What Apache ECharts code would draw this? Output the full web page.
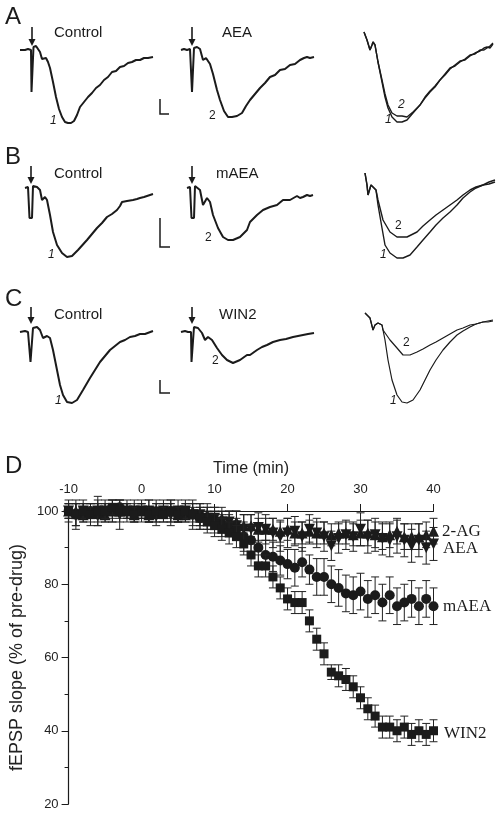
<!DOCTYPE html>
<html><head><meta charset="utf-8">
<script src="https://cdn.jsdelivr.net/npm/echarts@6/dist/echarts.min.js"></script>
<style>html,body{margin:0;padding:0;background:#fff}#c{width:501px;height:816px}</style>
</head><body><div id="c"></div>
<script>
// ---------- Panels A-C : field potential traces [time (ms), amplitude (mV)] ----------
const traceA_control = [[0,0],[0.2,0.01],[0.5,0],[0.8,0.01],[1.0,0],[1.1,0],[1.15,-0.42],[1.3,-0.42],[1.35,0.03],[1.6,0.04],[1.8,0.03],[2.0,-0.02],[2.2,-0.09],[2.4,-0.07],[2.6,-0.08],[2.8,-0.12],[3.0,-0.18],[3.3,-0.32],[3.6,-0.47],[3.9,-0.59],[4.2,-0.67],[4.5,-0.72],[4.8,-0.73],[5.1,-0.73],[5.4,-0.71],[5.7,-0.65],[6.0,-0.57],[6.4,-0.52],[6.8,-0.47],[7.2,-0.43],[7.6,-0.38],[8.0,-0.35],[8.4,-0.30],[8.8,-0.27],[9.2,-0.22],[9.6,-0.21],[10.0,-0.17],[10.4,-0.16],[10.8,-0.13],[11.2,-0.12],[11.6,-0.10],[12.0,-0.10],[12.4,-0.08],[12.8,-0.08],[13.0,-0.09],[13.3,-0.07]];
const traceA_AEA = [[0.1,0],[0.4,0.01],[0.7,0],[1.0,0.01],[1.15,0],[1.2,-0.42],[1.35,-0.42],[1.4,0.02],[1.7,0.03],[2.0,0.01],[2.3,-0.10],[2.6,-0.08],[2.8,-0.07],[3.0,-0.14],[3.3,-0.24],[3.7,-0.40],[4.0,-0.50],[4.4,-0.61],[4.8,-0.67],[5.2,-0.67],[5.7,-0.66],[6.2,-0.63],[6.6,-0.56],[7.0,-0.50],[7.5,-0.44],[8.0,-0.38],[8.5,-0.33],[9.0,-0.27],[9.5,-0.25],[10.0,-0.20],[10.5,-0.19],[11.0,-0.15],[11.5,-0.14],[12.0,-0.10],[12.4,-0.08],[12.7,-0.07],[13.0,-0.08],[13.4,-0.07]];
const traceA_over1 = [[0.4,0.18],[0.7,0.10],[1.0,0.0],[1.2,0.05],[1.3,0.08],[1.5,0.05],[1.8,-0.12],[2.2,-0.32],[2.5,-0.47],[2.8,-0.58],[3.2,-0.67],[3.7,-0.72],[4.2,-0.72],[4.7,-0.70],[5.3,-0.63],[6.0,-0.55],[6.5,-0.48],[7.0,-0.42],[7.5,-0.37],[8.0,-0.30],[8.5,-0.24],[9.0,-0.18],[9.5,-0.16],[10.0,-0.12],[10.5,-0.09],[11.0,-0.05],[11.5,-0.04],[12.0,0.0],[12.4,0.0],[12.7,0.02],[13.0,0.04],[13.3,0.07]];
const traceA_over2 = [[0.4,0.18],[0.7,0.10],[1.0,0.0],[1.2,0.05],[1.3,0.08],[1.5,0.05],[1.8,-0.12],[2.2,-0.30],[2.5,-0.44],[2.8,-0.55],[3.2,-0.63],[3.7,-0.66],[4.2,-0.66],[4.7,-0.67],[5.3,-0.62],[6.0,-0.55],[6.5,-0.47],[7.0,-0.41],[7.5,-0.36],[8.0,-0.30],[8.5,-0.25],[9.0,-0.19],[9.5,-0.15],[10.0,-0.11],[10.5,-0.10],[11.0,-0.06],[11.5,-0.03],[12.0,-0.01],[12.4,0.02],[12.7,0.03],[13.0,0.02],[13.3,0.06]];

const traceB_control = [[0.5,0],[0.8,0.01],[0.9,0],[0.95,-0.30],[1.2,-0.30],[1.3,0.02],[1.7,0.01],[2.0,-0.02],[2.2,-0.12],[2.3,-0.14],[2.5,-0.09],[2.7,-0.12],[3.0,-0.27],[3.3,-0.44],[3.7,-0.57],[4.2,-0.65],[4.7,-0.69],[5.2,-0.68],[5.8,-0.62],[6.7,-0.52],[7.2,-0.46],[7.7,-0.40],[8.2,-0.35],[8.7,-0.29],[9.2,-0.26],[9.7,-0.22],[10.0,-0.18],[10.2,-0.14],[10.7,-0.13],[11.3,-0.12],[11.7,-0.11],[12.0,-0.10],[12.4,-0.09],[12.7,-0.08],[13.0,-0.07],[13.3,-0.06]];
const traceB_mAEA = [[0.7,0],[1.0,0.01],[1.1,0],[1.15,-0.30],[1.4,-0.30],[1.5,0.02],[1.7,0.02],[2.0,-0.02],[2.3,-0.17],[2.7,-0.10],[3.0,-0.14],[3.3,-0.27],[3.8,-0.40],[4.3,-0.49],[4.8,-0.52],[5.3,-0.52],[6.0,-0.49],[6.7,-0.42],[7.0,-0.34],[7.7,-0.27],[8.3,-0.22],[9.0,-0.19],[9.7,-0.17],[10.3,-0.12],[11.0,-0.12],[11.7,-0.08],[12.0,-0.10],[12.3,-0.09],[12.7,-0.07],[13.0,-0.08],[13.3,-0.07]];
const traceB_over1 = [[0.5,0.15],[0.7,0.03],[0.8,-0.07],[1.1,0.03],[1.3,0.05],[1.6,-0.02],[1.8,-0.17],[2.2,-0.40],[2.5,-0.57],[3.0,-0.65],[3.7,-0.70],[4.3,-0.70],[5.0,-0.67],[5.7,-0.59],[6.3,-0.52],[7.0,-0.44],[7.6,-0.37],[8.3,-0.30],[9.0,-0.24],[9.7,-0.17],[10.3,-0.10],[11.0,-0.04],[11.6,0.0],[12.3,0.03],[12.9,0.04],[13.5,0.06]];
const traceB_over2 = [[0.5,0.15],[0.7,0.03],[0.8,-0.07],[1.1,0.03],[1.3,0.05],[1.6,-0.02],[1.8,-0.12],[2.3,-0.32],[3.0,-0.44],[3.7,-0.49],[4.7,-0.49],[5.7,-0.44],[6.3,-0.38],[7.0,-0.32],[7.6,-0.27],[8.3,-0.22],[9.0,-0.17],[9.7,-0.12],[10.3,-0.07],[11.0,-0.02],[11.6,0.01],[12.3,0.03],[12.9,0.06],[13.5,0.08]];

const traceC_control = [[0,0],[0.5,0.01],[0.8,0],[1.0,0],[1.05,-0.30],[1.25,-0.30],[1.3,0.04],[1.7,0.05],[2.0,0.02],[2.3,-0.06],[2.7,-0.04],[3.0,-0.06],[3.3,-0.18],[3.7,-0.38],[4.0,-0.53],[4.3,-0.63],[4.7,-0.70],[5.2,-0.71],[5.7,-0.68],[6.3,-0.58],[7.0,-0.46],[7.5,-0.38],[8.0,-0.30],[8.5,-0.24],[9.0,-0.18],[9.5,-0.14],[10.0,-0.10],[10.5,-0.08],[11.0,-0.05],[11.5,-0.04],[12.0,-0.02],[12.5,-0.02],[13.3,0.01]];
const traceC_WIN2 = [[0.1,0],[0.5,0.01],[0.8,0],[1.1,0],[1.15,-0.30],[1.3,-0.30],[1.4,0.05],[1.8,0.04],[2.2,-0.01],[2.5,-0.08],[2.8,-0.05],[3.2,-0.08],[3.7,-0.16],[4.2,-0.23],[4.7,-0.28],[5.3,-0.31],[6.0,-0.28],[6.7,-0.23],[7.0,-0.23],[7.7,-0.18],[8.2,-0.15],[8.7,-0.13],[9.3,-0.10],[10.0,-0.08],[10.6,-0.07],[11.3,-0.05],[11.8,-0.04],[12.3,-0.03],[12.8,-0.02],[13.4,-0.01]];
const traceC_over1 = [[0.5,0.19],[1.0,0.14],[1.3,0.02],[1.5,0.07],[1.8,0.09],[2.2,0.07],[2.5,-0.08],[2.8,-0.28],[3.2,-0.48],[3.7,-0.63],[4.2,-0.70],[4.7,-0.71],[5.3,-0.68],[6.0,-0.58],[6.5,-0.48],[7.0,-0.38],[7.6,-0.28],[8.3,-0.18],[9.0,-0.10],[9.7,-0.03],[10.3,0.01],[11.0,0.05],[11.6,0.08],[12.3,0.10],[12.8,0.10],[13.3,0.11]];
const traceC_over2 = [[0.5,0.19],[1.0,0.14],[1.3,0.02],[1.5,0.07],[1.8,0.09],[2.2,0.07],[2.3,0.02],[3.0,-0.08],[3.7,-0.16],[4.3,-0.23],[5.0,-0.23],[5.7,-0.20],[6.3,-0.17],[7.0,-0.13],[7.6,-0.10],[8.3,-0.06],[9.0,-0.02],[9.7,0.02],[10.3,0.04],[11.0,0.07],[11.6,0.08],[12.3,0.10],[12.8,0.11],[13.3,0.12]];

// ---------- Panel D : time course ----------
const timeMin = [-10,-9,-8,-7,-6,-5,-4,-3,-2,-1,0,1,2,3,4,5,6,7,8,9,10,11,12,13,14,15,16,17,18,19,20,21,22,23,24,25,26,27,28,29,30,31,32,33,34,35,36,37,38,39,40];
const ag2 =   [100,100,99,100,100,99,100,100,100,99, 100,99,100,100,100,99,99,100,99,99, 98,98,97,97,96,96,95,95,95,94.5, 95,94,94,94.5,94,94,93.5,94,94,93.5, 94,94,93.5,93,93.5,94.5,93,93,93,93.5, 94.5];
const ag2Err = [2,2,2,2,2,2,2,2,2,2, 2,2,2,2,2,2,2,2,3,3, 3,3,3,3,3,3,3,3,3,3, 3,3,3,3,3,3,3,3,3,3, 3.5,3.5,3.5,3.5,3.5,3.5,3.5,3.5,3.5,3.5, 3.5];
const aea =   [100,99,100,99,100,100,100,99,100,100, 100,100,99,100,99,100,100,99,99,98, 98,97,97,96,95,95,95.5,95,94,93, 94,94.5,93,95,94,93,90.5,92.5,93.5,93, 95,93,93.5,92.5,92,93,92,90.5,92,90, 91];
const aeaErr = [3,4,3,3,4,3,3,4,3,3, 3,3,3,3,3,3,3,4,3,3, 3,3,3,4,4,4,4,4,4,4, 4,4,4,4,4,4,4,4,4,4, 4.5,4.5,4.5,4.5,4.5,4.5,4.5,4.5,4.5,4.5, 4.5];
const maea =  [100,99,100,100,99,100,100,101,100,100, 100,100,99,100,100,99,100,99,98,98, 97,96,96,95,93,92,90,88,87.5,86.5, 85.5,84.5,86,84,82,82,80,79,77.5,77, 78,76,77,75,77,74,75,76,74,76, 74];
const maeaErr = [2,3,2,2,3,2,3,2,2,2, 2,3,2,2,3,2,2,2,3,3, 3,3,3,3,4,4,4,4,4,4, 4,5,4,4,5,5,5,5,5,5, 5,5,5,5,5,5,5,5,5,5, 5];
const win2 =  [100,99,100,99,100,100,101,100,100,99, 100,99,100,99,100,99,100,99,98,97, 96,95,94,93,91,88,85,85,82,79, 76,75,75,70,65,61,56,55,54,52, 49,46,44,41,41,40,41,39,40,39, 40];
const win2Err = [2,3,2,2,3,2,2,3,2,2, 2,2,3,2,3,2,2,3,3,3, 3,3,3,3,3,3,3,3,3,3, 3,3,3,3,3,3,2,3,3,3, 3,3,3,3,3,3,3,3,3,3, 3];
const yTicks = [20,40,60,80,100];
const xTicks = [-10,0,10,20,30,40];

// ---------- build ----------
const INK = '#1b1b1b';
const traceGrids = [
  {left:20, top:30},{left:180, top:30},{left:360, top:30},
  {left:20, top:168},{left:180, top:168},{left:360, top:168},
  {left:20, top:312},{left:180, top:312},{left:360, top:312}
];
const grid = traceGrids.map(g => ({left:g.left, top:g.top, width:140, height:100}));
grid.push({left:58.5, top:511, width:375, height:293});
const xAxis = traceGrids.map((g,i) => ({gridIndex:i, type:'value', min:0, max:14, show:false}));
const yAxis = traceGrids.map((g,i) => ({gridIndex:i, type:'value', min:-0.8, max:0.2, show:false}));
const axisFont = {fontFamily:'Liberation Sans, Arial, sans-serif', fontSize:13, color:'#222'};
xAxis.push({gridIndex:9, type:'value', position:'top', min:-10, max:40, interval:10,
  name:'Time (min)', nameLocation:'middle', nameGap:34,
  nameTextStyle:{fontFamily:'Liberation Sans, Arial, sans-serif', fontSize:16, color:'#222'},
  axisLine:{onZero:false, lineStyle:{color:INK, width:1.2}},
  axisTick:{inside:false, length:7, lineStyle:{color:INK}},
  axisLabel:Object.assign({margin:15, formatter:v => xTicks.includes(v)? String(v):''}, axisFont),
  splitLine:{show:false}});
yAxis.push({gridIndex:9, type:'value', min:20, max:100, interval:20,
  name:'fEPSP slope (% of pre-drug)', nameLocation:'middle', nameGap:33,
  nameTextStyle:{fontFamily:'Liberation Sans, Arial, sans-serif', fontSize:18, color:'#222'},
  axisLine:{onZero:false, lineStyle:{color:INK, width:1.2}},
  axisTick:{length:7, lineStyle:{color:INK}},
  minorTick:{show:true, splitNumber:2, length:4, lineStyle:{color:INK}},
  axisLabel:Object.assign({margin:10, formatter:v => yTicks.includes(v)? String(v):''}, axisFont),
  splitLine:{show:false}});

const traces = [
  [traceA_control,0,2],[traceA_AEA,1,2],[traceA_over1,2,1.4],[traceA_over2,2,1.4],
  [traceB_control,3,2],[traceB_mAEA,4,2],[traceB_over1,5,1.4],[traceB_over2,5,1.4],
  [traceC_control,6,2],[traceC_WIN2,7,2],[traceC_over1,8,1.2],[traceC_over2,8,1.2]
];
const series = traces.map(([d,g,w]) => ({type:'line', xAxisIndex:g, yAxisIndex:g, data:d,
  showSymbol:false, clip:false, silent:true, lineStyle:{color:INK, width:w}}));

function errRender(params, api){
  const x = api.value(0), lo = api.value(1), hi = api.value(2);
  const a = api.coord([x, hi]), b = api.coord([x, lo]);
  const w = 4, st = {stroke:'#222', lineWidth:1};
  return {type:'group', children:[
    {type:'line', shape:{x1:a[0], y1:a[1], x2:b[0], y2:b[1]}, style:st},
    {type:'line', shape:{x1:a[0]-w, y1:a[1], x2:a[0]+w, y2:a[1]}, style:st},
    {type:'line', shape:{x1:b[0]-w, y1:b[1], x2:b[0]+w, y2:b[1]}, style:st}
  ]};
}
const groups = [
  {v:ag2, e:ag2Err, symbol:'triangle', size:11, rot:0},
  {v:aea, e:aeaErr, symbol:'triangle', size:11, rot:180},
  {v:maea, e:maeaErr, symbol:'circle', size:10, rot:0},
  {v:win2, e:win2Err, symbol:'rect', size:9, rot:0}
];
groups.forEach((g, k) => {
  series.push({type:'custom', xAxisIndex:9, yAxisIndex:9, renderItem:errRender, clip:false, silent:true,
    encode:{x:0, y:[1,2]}, z:2+k*2,
    data: timeMin.map((t,i) => [t, g.v[i]-g.e[i], g.v[i]+g.e[i]])});
  series.push({type:'scatter', xAxisIndex:9, yAxisIndex:9, symbol:g.symbol, symbolSize:g.size,
    symbolRotate:g.rot, clip:false, silent:true, z:3+k*2,
    itemStyle:{color:INK, opacity:1},
    data: timeMin.map((t,i) => [t, g.v[i]])});
});

// ---------- annotations ----------
const graphic = [];
function txt(s, x, y, size, opts){
  graphic.push(Object.assign({type:'text', x:x, y:y, silent:true,
    style:{text:s, fill:'#1b1b1b', font: (opts&&opts.font) || (size+'px "Liberation Sans", Arial, sans-serif'),
      align:(opts&&opts.align)||'left', verticalAlign:'middle'}}));
}
function arrow(x, y0, y1){
  graphic.push({type:'line', silent:true, shape:{x1:x, y1:y0, x2:x, y2:y1-5}, style:{stroke:INK, lineWidth:1.6}});
  graphic.push({type:'polygon', silent:true, shape:{points:[[x-3.5,y1-7],[x+3.5,y1-7],[x,y1]]}, style:{fill:INK}});
}
function scaleBar(x, y0, y1, x1){
  graphic.push({type:'polyline', silent:true, shape:{points:[[x,y0],[x,y1],[x1,y1]]}, style:{stroke:INK, lineWidth:1.5, fill:null}});
}
// panel letters
txt('A', 5, 17, 24); txt('B', 5, 157, 24); txt('C', 5, 299, 24); txt('D', 5, 466, 24);
// condition labels
txt('Control', 54, 33, 15); txt('AEA', 222, 33, 15);
txt('Control', 54, 174, 15); txt('mAEA', 216, 174, 15);
txt('Control', 54, 315, 15); txt('WIN2', 219, 315, 15);
// stimulus arrows
arrow(32, 27, 46); arrow(192, 27, 46);
arrow(31, 166, 184); arrow(192, 166, 184);
arrow(31, 307, 324); arrow(192, 307, 324);
// scale bars
scaleBar(160, 99, 114, 169);
scaleBar(160, 218, 247, 170);
scaleBar(160, 380, 393, 170);
// trace numbers
const it = '12px "Liberation Sans", Arial, sans-serif';
const iti = 'italic 12px "Liberation Sans", Arial, sans-serif';
txt('1', 50, 121, 12, {font:iti}); txt('2', 209, 116, 12, {font:it});
txt('1', 385, 120, 12, {font:iti}); txt('2', 398, 105, 12, {font:iti});
txt('1', 48, 255, 12, {font:iti}); txt('2', 205, 238, 12, {font:it});
txt('1', 380, 255, 12, {font:iti}); txt('2', 395, 226, 12, {font:it});
txt('1', 55, 401, 12, {font:iti}); txt('2', 212, 361, 12, {font:it});
txt('1', 390, 401, 12, {font:iti}); txt('2', 403, 343, 12, {font:it});
// series labels in D
const serif = '17px "Liberation Serif", "Times New Roman", serif';
txt('2-AG', 442, 532, 17, {font:serif});
txt('AEA', 443, 549, 17, {font:serif});
txt('mAEA', 443, 607, 17, {font:serif});
txt('WIN2', 444, 734, 17, {font:serif});

const chart = echarts.init(document.getElementById('c'), null, {renderer:'canvas', width:501, height:816});
chart.setOption({animation:false, backgroundColor:'#fff', grid, xAxis, yAxis, series, graphic});
</script></body></html>
